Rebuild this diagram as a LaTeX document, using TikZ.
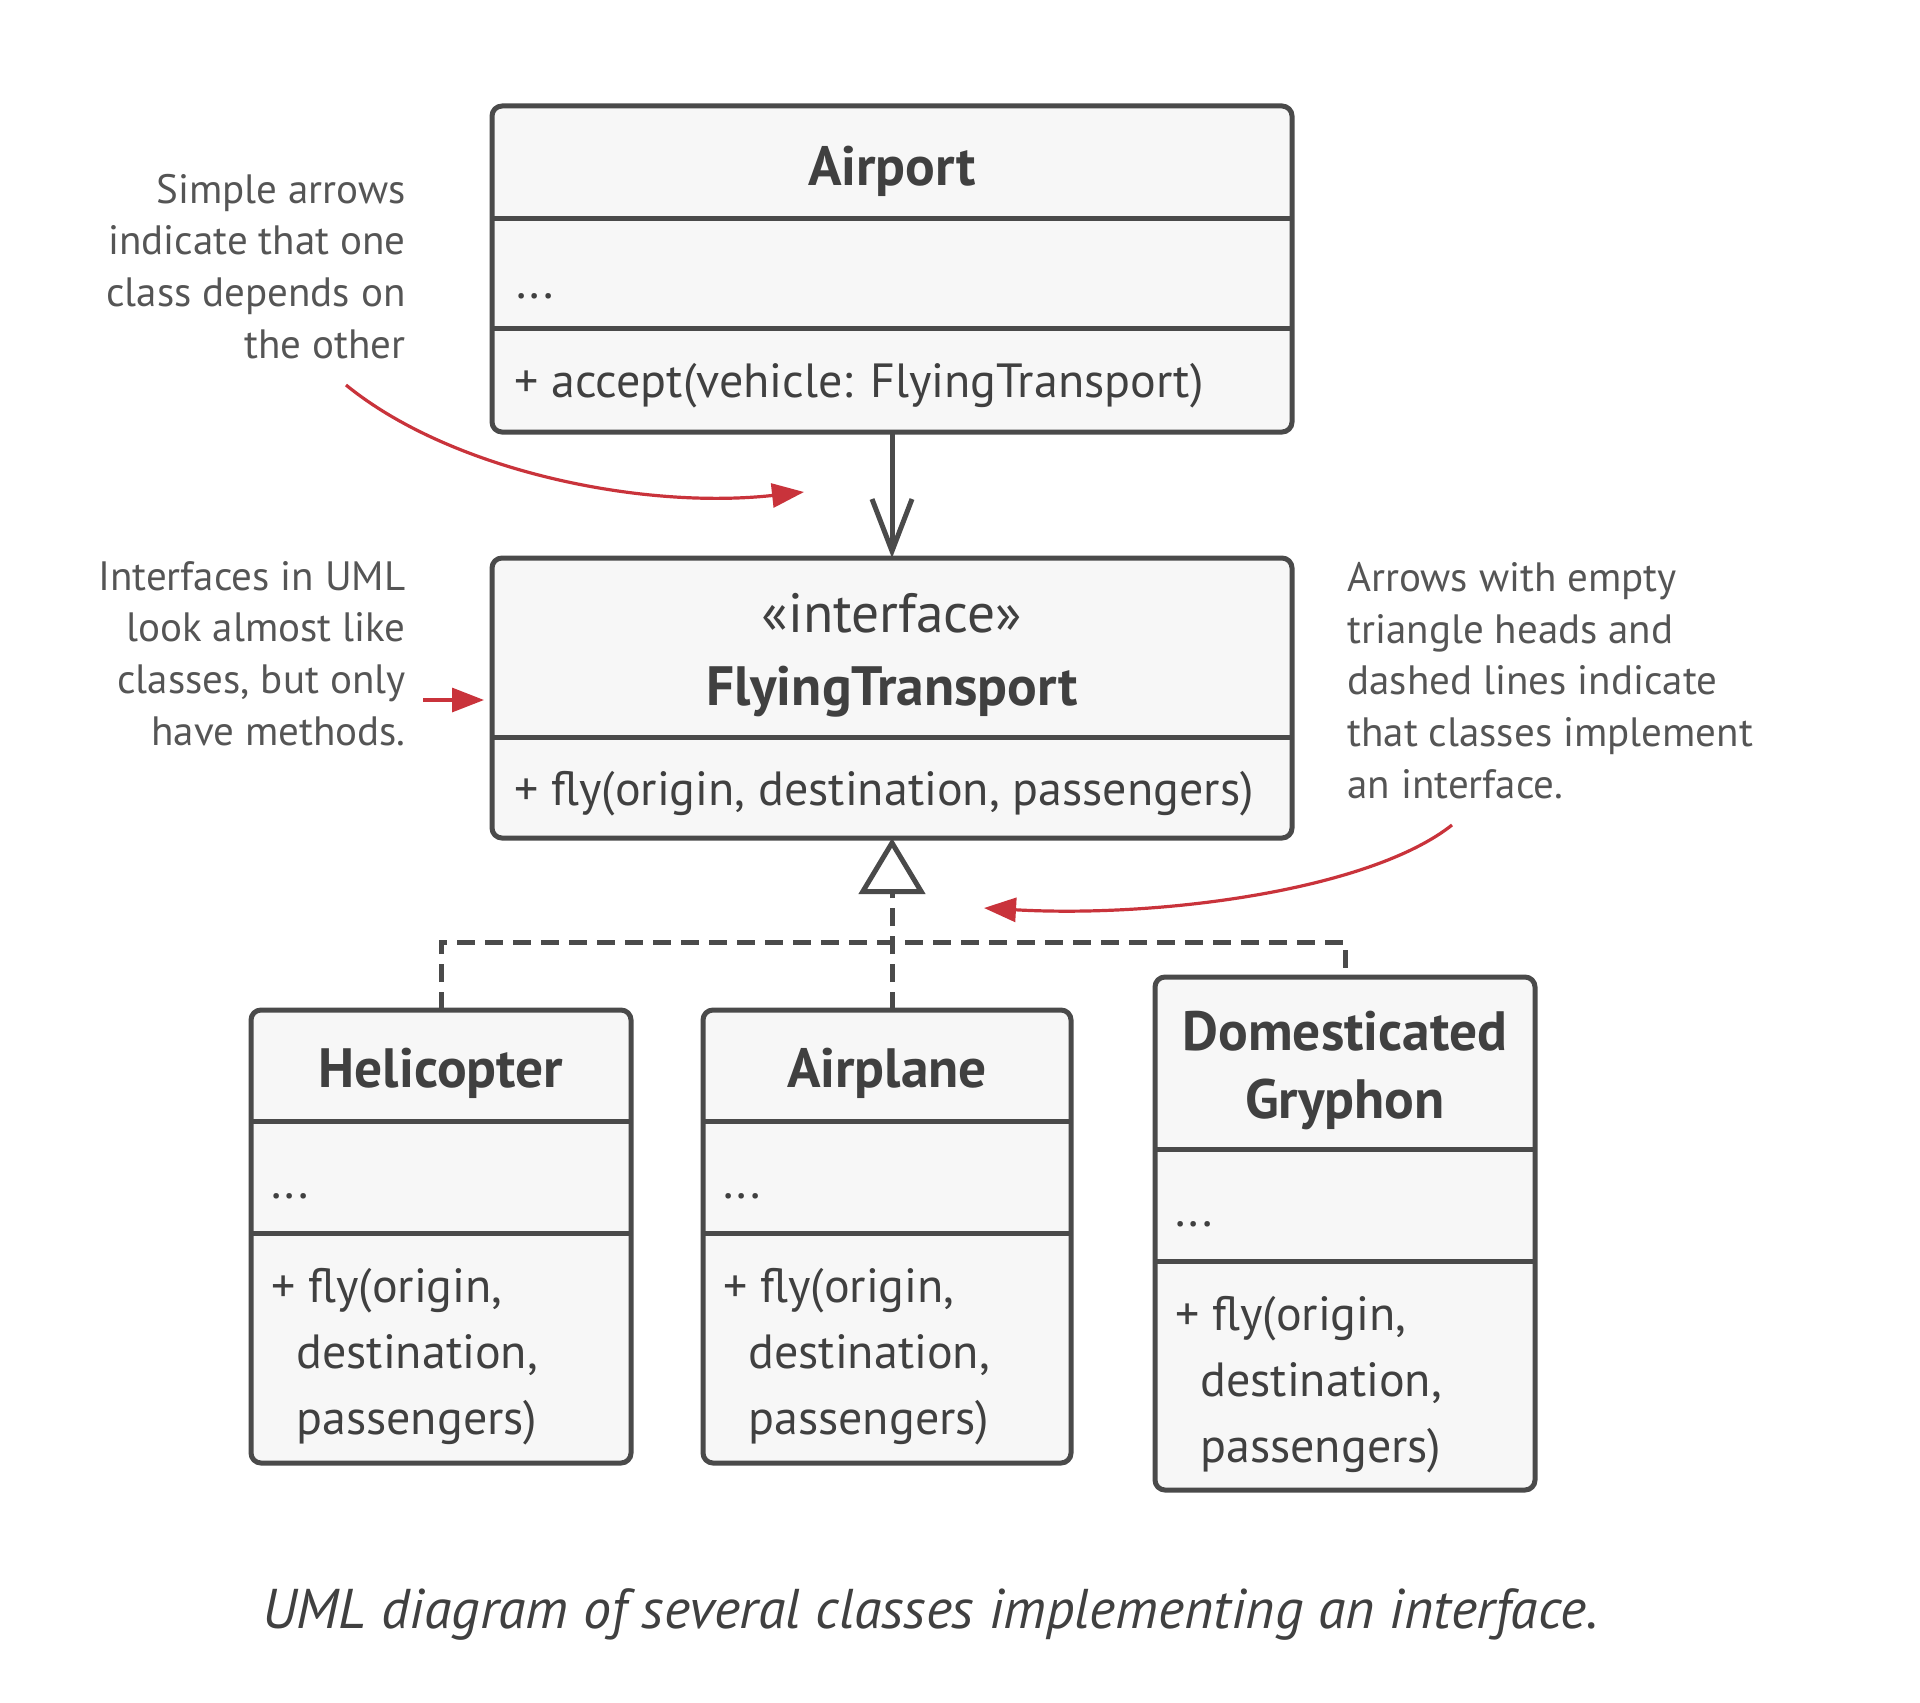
\documentclass[tikz,border=0pt]{standalone}
\usepackage{fontspec}
\setmainfont{PT Sans}
\usetikzlibrary{arrows.meta}
\definecolor{boxline}{HTML}{4A4A4A}
\definecolor{boxfill}{HTML}{F7F7F7}
\definecolor{txt}{HTML}{404040}
\definecolor{notetxt}{HTML}{555555}
\definecolor{redarrow}{HTML}{C9333B}
\newcommand\mybody{\fontsize{24}{29}\selectfont}
\newcommand\myhead{\fontsize{27.7}{33}\selectfont\bfseries}
\newcommand\mystereo{\fontsize{27.7}{33}\selectfont}
\newcommand\mynote{\fontsize{20.5}{25.8}\selectfont}
\newcommand\mycap{\fontsize{28}{33}\selectfont\itshape}
\begin{document}
\begin{tikzpicture}[x=0.5pt,y=-0.5pt,
  classbox/.style={draw=boxline, fill=boxfill, line width=2.5pt, rounded corners=5pt, anchor=north west, inner sep=0pt, outer sep=0pt},
  divider/.style={draw=boxline, line width=2.5pt},
  head/.style={font=\myhead, text=txt, anchor=base, inner sep=0pt},
  body/.style={font=\mybody, text=txt, anchor=base west, inner sep=0pt},
  note/.style={font=\mynote, text=notetxt, inner sep=0pt},
  dep/.style={draw=boxline, line width=2.5pt, -{Straight Barb[length=26pt,width=20pt,line width=2.5pt]}},
  impl/.style={draw=boxline, line width=2.5pt, dash pattern=on 9pt off 5pt},
  redarr/.style={draw=redarrow, line width=1.6pt, -{Triangle[length=16pt,width=12pt]}},
]
\useasboundingbox[fill=white] (0,0) rectangle (1920,1702);

% Airport
\node[classbox, minimum width=400pt, minimum height=163pt] (airport) at (492,106) {};
\draw[divider] (492,218) -- (1292,218);
\draw[divider] (492,328) -- (1292,328);
\node[head] (airportname) at (892,185) {Airport};
\node[body] (airportattr) at (516,298) {...};
\node[body] (airportop) at (514,397) {+ accept(vehicle: FlyingTransport)};

% FlyingTransport
\node[classbox, minimum width=400pt, minimum height=140pt] (ft) at (492,558) {};
\draw[divider] (492,737) -- (1292,737);
\node[font=\mystereo, text=txt, anchor=base, inner sep=0pt] (ftstereo) at (892,632) {«interface»};
\node[head] (ftname) at (892,705) {FlyingTransport};
\node[body] (ftop) at (514,805) {+ fly(origin, destination, passengers)};

% Helicopter
\node[classbox, minimum width=190pt, minimum height=226.5pt] (heli) at (251,1010) {};
\draw[divider] (251,1121) -- (631,1121);
\draw[divider] (251,1233) -- (631,1233);
\node[head] (heliname) at (441,1087) {Helicopter};
\node[body] (heliattr) at (271,1198) {...};
\node[body] (heliop1) at (271,1302) {+ fly(origin,};
\node[body] (heliop2) at (296,1368) {destination,};
\node[body] (heliop3) at (296,1434) {passengers)};

% Airplane
\node[classbox, minimum width=184pt, minimum height=226.5pt] (plane) at (703,1010) {};
\draw[divider] (703,1121) -- (1071,1121);
\draw[divider] (703,1233) -- (1071,1233);
\node[head] (planename) at (887,1087) {Airplane};
\node[body] (planeattr) at (723,1198) {...};
\node[body] (planeop1) at (723,1302) {+ fly(origin,};
\node[body] (planeop2) at (748,1368) {destination,};
\node[body] (planeop3) at (748,1434) {passengers)};

% Domesticated Gryphon
\node[classbox, minimum width=190pt, minimum height=256.5pt] (gry) at (1155,977) {};
\draw[divider] (1155,1149) -- (1535,1149);
\draw[divider] (1155,1261) -- (1535,1261);
\node[head] (gryname1) at (1345,1050) {Domesticated};
\node[head] (gryname2) at (1345,1118) {Gryphon};
\node[body] (gryattr) at (1175,1226) {...};
\node[body] (gryop1) at (1175,1330) {+ fly(origin,};
\node[body] (gryop2) at (1200,1396) {destination,};
\node[body] (gryop3) at (1200,1462) {passengers)};

% connectors
\draw[dep] (airport.south) -- (ft.north);
\coordinate (junc) at (892,942);
\draw[impl] (heli.north) |- (junc) -| (gry.north);
\draw[impl, -{Triangle[fill=white, length=28pt, width=33pt, line width=2.5pt]}] (plane.north -| ft.south) -- (ft.south);

% notes (base anchor = baseline of last line)
\node[note, anchor=base east, align=right] (note1) at (406,358) {Simple arrows\\indicate that one\\class depends on\\the other};
\node[note, anchor=base east, align=right] (note2) at (406,745) {Interfaces in UML\\look almost like\\classes, but only\\have methods.};
\node[note, anchor=base west, align=left] (note3) at (1347,798) {Arrows with empty\\triangle heads and\\dashed lines indicate\\that classes implement\\an interface.};

\coordinate (r1s) at (346,385);
\coordinate (r1e) at (804,492);
\draw[redarr] (r1s) .. controls (450,470) and (640,510) .. (r1e);
\coordinate (r2s) at (423,700);
\coordinate (r2e) at (484,700);
\draw[redarr] (r2s) -- (r2e);
\coordinate (r3s) at (1452,825);
\coordinate (r3e) at (984,908);
\draw[redarr] (r3s) .. controls (1370,890) and (1160,918) .. (r3e);

% caption
\node[font=\mycap, text=txt, anchor=base, inner sep=0pt] (caption) at (930,1628) {UML diagram of several classes implementing an interface.};
\end{tikzpicture}
\end{document}
